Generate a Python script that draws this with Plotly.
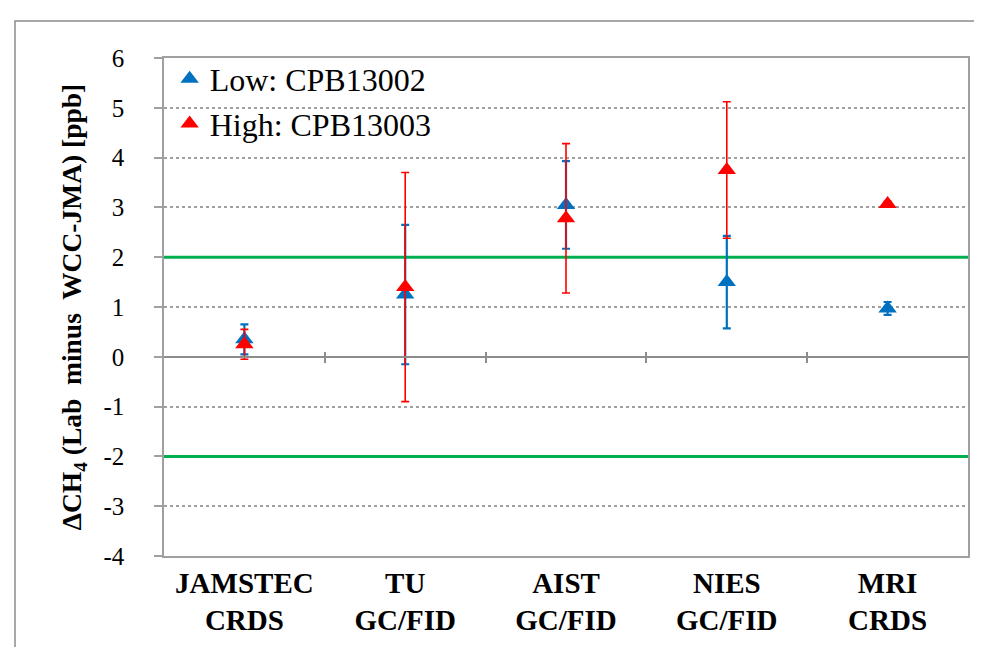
import plotly.graph_objects as go

# ---- data ----
categories = ["JAMSTEC<br>CRDS", "TU<br>GC/FID", "AIST<br>GC/FID", "NIES<br>GC/FID", "MRI<br>CRDS"]
low_values = [0.35, 1.25, 3.05, 1.50, 0.97]
low_errors = [0.30, 1.40, 0.88, 0.93, 0.13]
high_values = [0.25, 1.40, 2.78, 3.75, 3.07]
high_errors = [0.30, 2.30, 1.50, 1.37, 0.05]
limit_lines = [-2, 2]
y_ticks = [-4, -3, -2, -1, 0, 1, 2, 3, 4, 5, 6]
grid_values = [-3, -1, 1, 3, 4, 5]
boundary_ticks = [0.5, 1.5, 2.5, 3.5]

BLUE = "#0070C0"
RED = "#FF0000"
GREEN = "#00B050"
GRAY = "#A0A0A0"
FONT = "Liberation Serif"

W, H = 982, 647
ML, MR, MT, MB = 156, 22, 50, 99
PW, PH = W - ML - MR, H - MT - MB

fig = go.Figure()
fig.add_trace(go.Scatter(
    x=categories, y=low_values, mode="markers", name="Low: CPB13002",
    marker=dict(symbol="triangle-up", size=16, color=BLUE),
    error_y=dict(type="data", array=low_errors, visible=True, color=BLUE, thickness=2.2, width=4),
))
fig.add_trace(go.Scatter(
    x=categories, y=high_values, mode="markers", name="High: CPB13003",
    marker=dict(symbol="triangle-up", size=16, color=RED),
    error_y=dict(type="data", array=high_errors, visible=True, color=RED, thickness=1.6, width=4),
))
# empty helper traces so the overlay axes (zero line with ticks, grid) are drawn
fig.add_trace(go.Scatter(x=[None], y=[None], xaxis="x2", yaxis="y", showlegend=False, hoverinfo="skip"))
fig.add_trace(go.Scatter(x=[None], y=[None], xaxis="x3", yaxis="y", showlegend=False, hoverinfo="skip"))
fig.add_trace(go.Scatter(x=[None], y=[None], xaxis="x", yaxis="y2", showlegend=False, hoverinfo="skip"))

for v in limit_lines:
    fig.add_shape(type="line", xref="paper", x0=0, x1=1, yref="y", y0=v, y1=v,
                  line=dict(color=GREEN, width=3), layer="between")

# outer chart-area frame (top and left edges visible)
fx = (7 - ML) / PW
fy = 1 + (MT - 13) / PH
fig.add_shape(type="path", xref="paper", yref="paper",
              path=f"M {fx},-0.4 L {fx},{fy} L 1.2,{fy}",
              line=dict(color="#8C8C8C", width=1.5), layer="above")

fig.update_layout(
    width=W, height=H,
    margin=dict(l=ML, r=MR, t=MT, b=MB),
    paper_bgcolor="white", plot_bgcolor="white",
    font=dict(family=FONT, color="black"),
    showlegend=True,
    legend=dict(x=0.007, y=1.013, xanchor="left", yanchor="top",
                bgcolor="rgba(0,0,0,0)", font=dict(family=FONT, size=32, color="black"),
                tracegroupgap=0),
    xaxis=dict(
        type="category", range=[-0.5, 4.5],
        showgrid=False, zeroline=False,
        showline=True, linecolor=GRAY, linewidth=1.5, mirror=True,
        ticks="", tickfont=dict(family=FONT, size=29, color="black", weight="bold"),
        ticklabelstandoff=0,
    ),
    xaxis2=dict(
        overlaying="x", anchor="free", position=0.4, range=[-0.5, 4.5],
        tickmode="array", tickvals=boundary_ticks, showticklabels=False,
        ticks="outside", ticklen=5, tickwidth=1.5, tickcolor="#8C8C8C",
        showline=True, linecolor="#8C8C8C", linewidth=2, showgrid=False, zeroline=False,
    ),
    xaxis3=dict(
        overlaying="x", anchor="free", position=0.4, side="top", range=[-0.5, 4.5],
        tickmode="array", tickvals=boundary_ticks, showticklabels=False,
        ticks="outside", ticklen=5, tickwidth=1.5, tickcolor="#8C8C8C",
        showline=False, showgrid=False, zeroline=False,
    ),
    yaxis=dict(
        range=[-4, 6], tickmode="array", tickvals=y_ticks,
        ticktext=[str(v) for v in y_ticks],
        showgrid=False, zeroline=False,
        showline=True, linecolor=GRAY, linewidth=1.5, mirror=True,
        ticks="outside", ticklen=8, tickwidth=1.5, tickcolor=GRAY,
        tickfont=dict(family=FONT, size=25, color="black"),
        ticklabelstandoff=25,
        title=dict(text="ΔCH<sub>4</sub> (Lab\u00a0 minus\u00a0 WCC-JMA) [ppb]",
                   font=dict(family=FONT, size=27.5, color="black", weight="bold"),
                   standoff=14),
    ),
    yaxis2=dict(
        overlaying="y", range=[-4, 6], tickmode="array", tickvals=grid_values,
        showticklabels=False, ticks="", showline=False, zeroline=False,
        showgrid=True, gridcolor=GRAY, griddash="dot", gridwidth=1.5,
    ),
)

fig.write_html("out.html")
